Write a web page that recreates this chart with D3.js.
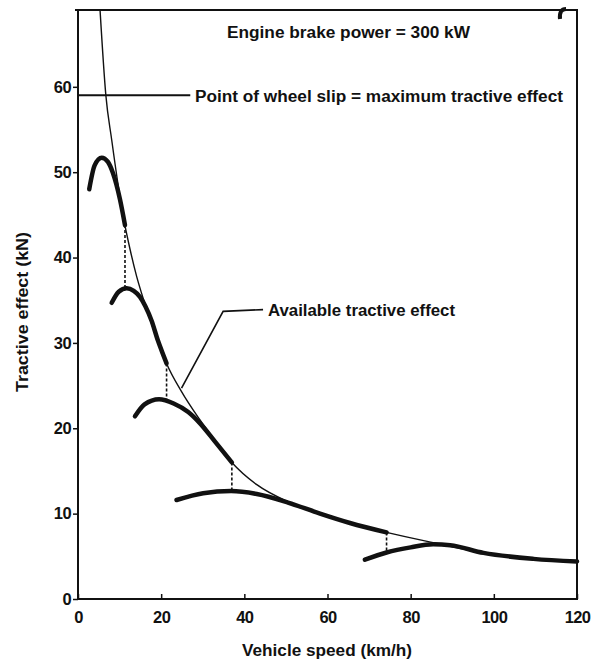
<!DOCTYPE html>
<html><head><meta charset="utf-8">
<script src="https://cdn.jsdelivr.net/npm/d3@7/dist/d3.min.js"></script>
<style>body{margin:0;background:#fff}svg{display:block}text{font-family:"Liberation Sans",Arial,sans-serif;font-weight:bold;fill:#111}</style>
</head><body>
<svg id="c" width="600" height="663"></svg>
<script>
// Data
const xTicks = [0, 20, 40, 60, 80, 100, 120];
const yTicks = [0, 10, 20, 30, 40, 50, 60];
// Thin envelope curve: constant power line (speed km/h, tractive effect kN)
const envSpeed = [5.3, 6.7, 8.1, 10.8, 12.5, 14.1, 15.3, 16.8, 19.2, 21.3, 24.9, 29.3, 33.0, 37.0, 43.0, 50.5, 58.2, 65.4, 74.2, 85.4, 97.5, 109.5, 120];
const envForce = [69, 59, 53.8, 45.0, 41.0, 37.8, 35.8, 33.5, 30.3, 27.6, 24.3, 21.0, 18.5, 16.0, 13.4, 11.4, 10.0, 8.9, 7.8, 6.6, 5.4, 4.7, 4.4];
// Gear curves (thick)
const gear1Speed = [2.7, 4.0, 5.7, 7.2, 8.4, 10.1, 11.3];
const gear1Force = [48.0, 50.8, 51.7, 51.2, 49.9, 46.8, 43.8];
const gear2Speed = [8.1, 9.8, 11.7, 13.4, 14.9, 16.2, 17.7, 19.2, 20.5, 21.3];
const gear2Force = [34.7, 36.0, 36.4, 36.1, 35.4, 34.3, 32.6, 30.3, 28.6, 27.6];
const gear3Speed = [13.7, 16.0, 19.5, 23.0, 26.5, 29.3, 33.0, 37.0];
const gear3Force = [21.4, 22.8, 23.4, 22.9, 21.9, 20.6, 18.4, 16.0];
const gear4Speed = [23.7, 30.1, 36.8, 43.0, 50.5, 58.2, 65.4, 74.2];
const gear4Force = [11.6, 12.4, 12.65, 12.3, 11.3, 10.0, 8.9, 7.8];
const gear5Speed = [69.0, 74.2, 80.0, 85.4, 89.5, 97.5, 109.5, 120];
const gear5Force = [4.6, 5.45, 6.05, 6.4, 6.3, 5.4, 4.7, 4.4];
// Gear change dashed verticals: speed, upper force, lower force
const shiftSpeed = [11.3, 21.3, 37.0, 74.2];
const shiftTop = [43.8, 27.6, 16.0, 7.8];
const shiftBottom = [36.5, 23.2, 12.6, 5.45];
// Wheel slip level
const slipForce = 59;
const slipLineEnd = 27;
// Leader for "Available tractive effect"
const leaderSpeed = [44.5, 34.9, 24.9];
const leaderForce = [33.9, 33.7, 24.7];

const svg = d3.select('#c');
const x = d3.scaleLinear().domain([0, 120]).range([78, 577]);
const y = d3.scaleLinear().domain([0, 69]).range([599, 10]);
const ink = '#111';

// frame
svg.append('path')
  .attr('d', `M${x(0)},${y(0)}V${y(69)}H${x(120)}V${y(0)}Z`)
  .attr('fill', 'none').attr('stroke', ink).attr('stroke-width', 2);
svg.append('line').attr('x1', 75).attr('x2', x(0)).attr('y1', y(69)).attr('y2', y(69))
  .attr('stroke', ink).attr('stroke-width', 2);

// axes
const ya = svg.append('g').attr('transform', `translate(${x(0)},0)`)
  .call(d3.axisLeft(y).tickValues(yTicks).tickSize(5).tickPadding(2).tickFormat(d3.format('d')));
const xa = svg.append('g').attr('transform', `translate(0,${y(0)})`)
  .call(d3.axisBottom(x).tickValues(xTicks).tickSizeInner(-5).tickSizeOuter(0).tickPadding(12).tickFormat(d3.format('d')));
[ya, xa].forEach(g => {
  g.select('.domain').remove();
  g.selectAll('line').attr('stroke', ink).attr('stroke-width', 1.5);
  g.selectAll('text').attr('font-size', 16.5).attr('font-family', '"Liberation Sans",Arial,sans-serif')
    .attr('font-weight', 'bold').attr('fill', ink).attr('letter-spacing', -0.6);
});

// axis titles
svg.append('text').attr('x', 327).attr('y', 656).attr('text-anchor', 'middle')
  .attr('font-size', 17).attr('textLength', 170).attr('lengthAdjust', 'spacingAndGlyphs')
  .text('Vehicle speed (km/h)');
svg.append('text').attr('transform', 'translate(28,312) rotate(-90)').attr('text-anchor', 'middle')
  .attr('font-size', 17).attr('textLength', 160).attr('lengthAdjust', 'spacingAndGlyphs')
  .text('Tractive effect (kN)');

const line = d3.line().x(d => x(d[0])).y(d => y(d[1])).curve(d3.curveMonotoneX);
const zip = (a, b) => a.map((v, i) => [v, b[i]]);

// envelope (thin)
svg.append('path').datum(zip(envSpeed, envForce)).attr('d', line)
  .attr('fill', 'none').attr('stroke', ink).attr('stroke-width', 1.4);

// gears (thick)
[[gear1Speed, gear1Force], [gear2Speed, gear2Force], [gear3Speed, gear3Force], [gear4Speed, gear4Force], [gear5Speed, gear5Force]]
  .forEach(([s, f]) => {
    svg.append('path').datum(zip(s, f)).attr('d', line)
      .attr('fill', 'none').attr('stroke', ink).attr('stroke-width', 4.5).attr('stroke-linecap', 'round');
  });

// dashed shift lines
shiftSpeed.forEach((s, i) => {
  svg.append('line').attr('x1', x(s)).attr('x2', x(s)).attr('y1', y(shiftTop[i])).attr('y2', y(shiftBottom[i]))
    .attr('stroke', ink).attr('stroke-width', 1.6).attr('stroke-dasharray', '3,2');
});

// wheel slip line
svg.append('line').attr('x1', x(0)).attr('x2', x(slipLineEnd)).attr('y1', y(slipForce)).attr('y2', y(slipForce))
  .attr('stroke', ink).attr('stroke-width', 2);

// leader line
svg.append('path').datum(zip(leaderSpeed, leaderForce)).attr('d', d3.line().x(d => x(d[0])).y(d => y(d[1])))
  .attr('fill', 'none').attr('stroke', ink).attr('stroke-width', 1.6);

// annotations
svg.append('text').attr('x', 227).attr('y', 38).attr('font-size', 16)
  .attr('textLength', 243).attr('lengthAdjust', 'spacingAndGlyphs').text('Engine brake power = 300 kW');
svg.append('text').attr('x', 195).attr('y', 102).attr('font-size', 16)
  .attr('textLength', 368).attr('lengthAdjust', 'spacingAndGlyphs').text('Point of wheel slip = maximum tractive effect');
svg.append('text').attr('x', 268).attr('y', 316).attr('font-size', 16)
  .attr('textLength', 187).attr('lengthAdjust', 'spacingAndGlyphs').text('Available tractive effect');

// scan mark at top right
svg.append('path').attr('d', 'M566,9 Q559,9 560,19').attr('fill', 'none').attr('stroke', ink).attr('stroke-width', 4);
</script>
</body></html>
